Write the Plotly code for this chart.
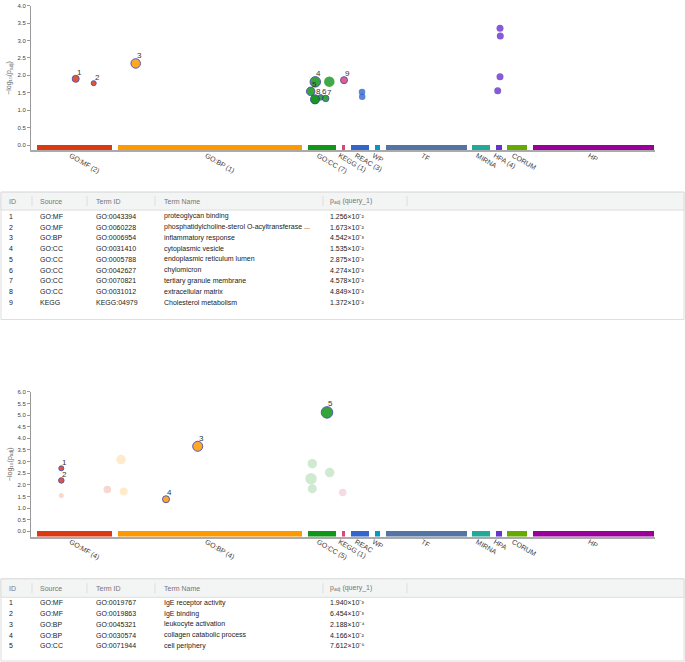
import plotly.graph_objects as go

W, H = 685, 662

# sources (g:Profiler data sources) and the extent of each source band on the x axis
sources = ["GO:MF", "GO:BP", "GO:CC", "KEGG", "REAC", "WP", "TF", "MIRNA", "HPA", "CORUM", "HP"]
source_colors = ["#dc3912", "#ff9900", "#109618", "#dd4477", "#3366cc", "#0099c6",
                 "#5574a6", "#22aa99", "#6633cc", "#66aa00", "#990099"]
source_start = [5.7, 87.3, 277.3, 310.5, 320.0, 343.5, 355.0, 441.2, 464.8, 476.2, 501.7]
source_end = [81.3, 271.3, 304.7, 314.3, 338.0, 349.3, 435.6, 459.0, 470.6, 496.0, 623.0]
counts_top = [2, 1, 7, 1, 3, 0, 0, 0, 4, 0, 0]
counts_bottom = [4, 4, 5, 1, 0, 0, 0, 0, 0, 0, 0]

# query 1 (top panel)
top_src = ["GO:MF", "GO:MF", "GO:BP", "GO:CC", "GO:CC", "GO:CC", "GO:CC", "GO:CC", "GO:CC", "GO:CC",
           "KEGG", "REAC", "REAC", "HPA", "HPA", "HPA", "HPA"]
top_x = [44.7, 62.7, 104.7, 284.3, 279.7, 289.7, 294.7, 284.0, 298.3, 284.0,
         313.0, 331.0, 331.2, 469.0, 469.3, 469.0, 466.7]
top_y = [1.901, 1.776, 2.343, 1.814, 1.541, 1.369, 1.339, 1.314, 1.82, 1.30,
         1.863, 1.52, 1.39, 3.35, 3.13, 1.96, 1.56]
top_size = [7, 5, 9.5, 10.5, 8.5, 5.5, 6.5, 9, 10.5, 9, 7, 6.5, 6.5, 7, 7, 7, 7]
top_label = ["1", "2", "3", "4", "5", "6", "7", "8", "", "", "9", "", "", "", "", "", ""]

# query 2 (bottom panel)
bot_src = ["GO:MF", "GO:MF", "GO:MF", "GO:MF", "GO:BP", "GO:BP", "GO:BP", "GO:BP",
           "GO:CC", "GO:CC", "GO:CC", "GO:CC", "GO:CC", "KEGG"]
bot_x = [30.3, 30.3, 30.3, 76.3, 166.7, 135.0, 90.0, 92.7, 296.0, 281.3, 280.0, 281.3, 298.7, 311.7]
bot_y = [2.712, 2.19, 1.54, 1.80, 3.66, 1.38, 3.09, 1.71, 5.118, 2.91, 2.26, 1.83, 2.53, 1.67]
bot_size = [5, 5.5, 5, 7.5, 10, 7, 9.5, 8, 11.5, 9.5, 11.5, 9, 9.5, 7.5]
bot_label = ["1", "2", "", "", "3", "4", "", "", "5", "", "", "", "", ""]

# tables
top_ids = ["1", "2", "3", "4", "5", "6", "7", "8", "9"]
top_table_src = ["GO:MF", "GO:MF", "GO:BP", "GO:CC", "GO:CC", "GO:CC", "GO:CC", "GO:CC", "KEGG"]
top_term_ids = ["GO:0043394", "GO:0060228", "GO:0006954", "GO:0031410", "GO:0005788",
                "GO:0042627", "GO:0070821", "GO:0031012", "KEGG:04979"]
top_names = ["proteoglycan binding", "phosphatidylcholine-sterol O-acyltransferase ...",
             "inflammatory response", "cytoplasmic vesicle", "endoplasmic reticulum lumen",
             "chylomicron", "tertiary granule membrane", "extracellular matrix",
             "Cholesterol metabolism"]
top_padj = ["1.256×10⁻²", "1.673×10⁻²", "4.542×10⁻³", "1.535×10⁻²", "2.875×10⁻²",
            "4.274×10⁻²", "4.578×10⁻²", "4.849×10⁻²", "1.372×10⁻²"]

bot_ids = ["1", "2", "3", "4", "5"]
bot_table_src = ["GO:MF", "GO:MF", "GO:BP", "GO:BP", "GO:CC"]
bot_term_ids = ["GO:0019767", "GO:0019863", "GO:0045321", "GO:0030574", "GO:0071944"]
bot_names = ["IgE receptor activity", "IgE binding", "leukocyte activation",
             "collagen catabolic process", "cell periphery"]
bot_padj = ["1.940×10⁻³", "6.454×10⁻³", "2.188×10⁻⁴", "4.166×10⁻²", "7.612×10⁻⁶"]

FONT = "Liberation Sans"
color_of = dict(zip(sources, source_colors))
centers = [(a + b) / 2 for a, b in zip(source_start, source_end)]
widths = [b - a for a, b in zip(source_start, source_end)]


def px_x(p):
    return p / W


def px_y(p):
    return 1 - p / H


fig = go.Figure()


def add_panel(xa, ya, base, src, xs, ys, size, labels, faded_alpha):
    fig.add_trace(go.Bar(x=centers, y=[-base] * len(centers), base=base, width=widths,
                         marker=dict(color=source_colors, line=dict(width=0)),
                         xaxis=xa, yaxis=ya, hoverinfo="skip", showlegend=False))
    plain = [i for i, lab in enumerate(labels) if lab == ""]
    hl = [i for i, lab in enumerate(labels) if lab != ""]
    # terms not in the table
    fig.add_trace(go.Scatter(
        x=[xs[i] for i in plain], y=[ys[i] for i in plain], mode="markers",
        marker=dict(size=[size[i] for i in plain], color=[color_of[src[i]] for i in plain],
                    opacity=faded_alpha, line=dict(width=0)),
        xaxis=xa, yaxis=ya, showlegend=False, cliponaxis=False))
    # highlighted terms
    fig.add_trace(go.Scatter(
        x=[xs[i] for i in hl], y=[ys[i] for i in hl], mode="markers",
        marker=dict(size=[size[i] for i in hl], color=[color_of[src[i]] for i in hl],
                    opacity=0.85, line=dict(color="#3a3aa0", width=1)),
        xaxis=xa, yaxis=ya, showlegend=False, cliponaxis=False))
    for i in hl:
        fig.add_annotation(x=xs[i], y=ys[i], xref=xa, yref=ya, text=labels[i],
                           showarrow=False, xshift=3.5, yshift=size[i] / 2 + 3,
                           font=dict(family=FONT, size=8, color="#333"))


add_panel("x", "y", -0.151, top_src, top_x, top_y, top_size, top_label, 0.8)
add_panel("x2", "y2", -0.227, bot_src, bot_x, bot_y, bot_size, bot_label, 0.2)

xcommon = dict(range=[0, 624], showgrid=False, zeroline=False, showline=True,
               linecolor="#aaa", linewidth=1.5, ticks="", tickvals=centers, tickangle=30,
               tickfont=dict(family=FONT, size=7, color="#444"), ticklabelshift=-4,
               ticklabelstandoff=-3)
ycommon = dict(showgrid=False, zeroline=False, showline=True, linecolor="#999", linewidth=1,
               ticks="outside", ticklen=3, tickcolor="#999", dtick=0.5, tickformat=".1f",
               tickfont=dict(family=FONT, size=6, color="#444"),
               title=dict(text="\u2212log\u2081\u2080(p<sub>adj</sub>)",
                          font=dict(family=FONT, size=7, color="#666"), standoff=4))

fig.update_layout(
    width=W, height=H, margin=dict(l=0, r=0, t=0, b=0),
    paper_bgcolor="white", plot_bgcolor="white", bargap=0,
    xaxis=dict(xcommon, domain=[px_x(31), px_x(655)], anchor="y",
               ticktext=[s + (f" ({c})" if c else "") for s, c in zip(sources, counts_top)]),
    yaxis=dict(ycommon, domain=[px_y(148), px_y(2.7)], range=[-0.151, 4.0], anchor="x"),
    xaxis2=dict(xcommon, domain=[px_x(31), px_x(655)], anchor="y2",
                ticktext=[s + (f" ({c})" if c else "") for s, c in zip(sources, counts_bottom)]),
    yaxis2=dict(ycommon, domain=[px_y(536), px_y(390.7)], range=[-0.227, 6.0], anchor="x2"),
)

# tables drawn as text and lines in paper coordinates
col_x = [7, 38, 94, 162, 328]
sep_x = [32, 87, 155, 323, 407]
headers = ["ID", "Source", "Term ID", "Term Name", "p<sub>adj</sub> (query_1)"]


def add_table(top, bottom, head_bottom, row0, cols):
    fig.add_shape(type="rect", xref="paper", yref="paper",
                  x0=px_x(1), x1=px_x(684), y0=px_y(bottom), y1=px_y(top),
                  line=dict(color="#dddddd", width=1), fillcolor="white", layer="below")
    fig.add_shape(type="rect", xref="paper", yref="paper",
                  x0=px_x(1), x1=px_x(684), y0=px_y(head_bottom), y1=px_y(top),
                  line=dict(color="#dddddd", width=1), fillcolor="#f3f4f4", layer="below")
    hy = (top + head_bottom) / 2
    for sx in sep_x:
        fig.add_shape(type="line", xref="paper", yref="paper",
                      x0=px_x(sx), x1=px_x(sx), y0=px_y(hy + 5), y1=px_y(hy - 5),
                      line=dict(color="#dddddd", width=1))
    for cx, h in zip(col_x, headers):
        fig.add_annotation(x=px_x(cx), y=px_y(hy), xref="paper", yref="paper", text=h,
                           showarrow=False, xanchor="left", yanchor="middle",
                           font=dict(family=FONT, size=7, color="#777"))
    for i in range(len(cols[0])):
        for cx, col in zip(col_x, cols):
            fig.add_annotation(x=px_x(cx), y=px_y(row0 + 10.8 * i), xref="paper", yref="paper",
                               text=col[i], showarrow=False, xanchor="left", yanchor="middle",
                               font=dict(family=FONT, size=7, color="#222"))


add_table(190, 318, 208, 214.3, [top_ids, top_table_src, top_term_ids, top_names, top_padj])
add_table(578.5, 661, 597, 602.7, [bot_ids, bot_table_src, bot_term_ids, bot_names, bot_padj])

# the page body has a default 8px margin; drop it so the figure fills the window
fig.write_html("out.html", config={"displayModeBar": False},
               post_script="document.body.style.margin='0px';")
